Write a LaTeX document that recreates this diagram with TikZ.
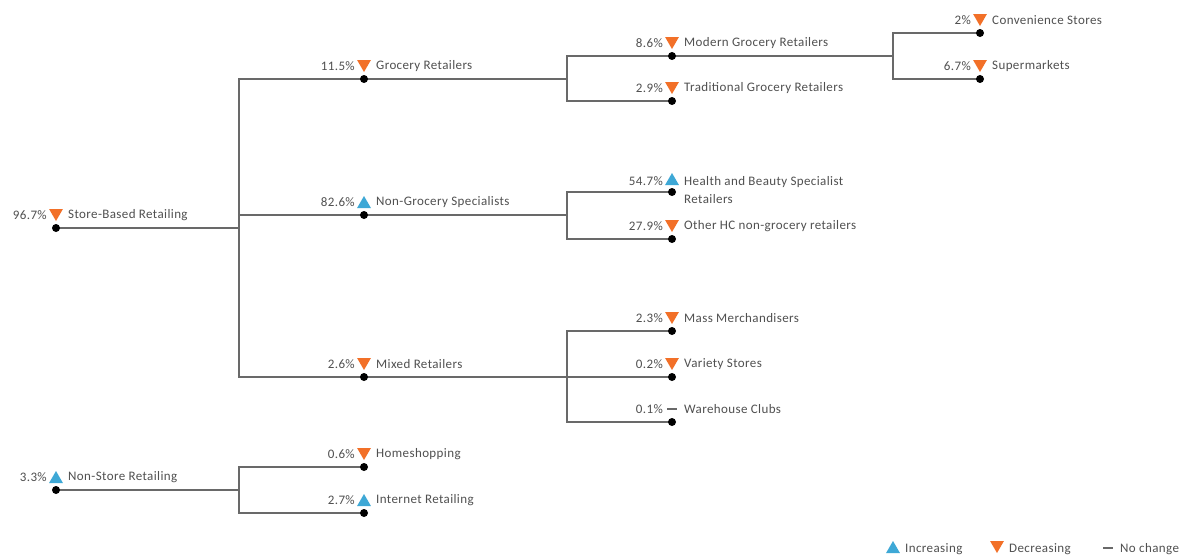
\documentclass[tikz,border=0pt]{standalone}
\usepackage{fontspec}
\setmainfont{Carlito}[LetterSpace=3]
\usetikzlibrary{shapes.geometric}
\definecolor{upblue}{RGB}{62,168,214}
\definecolor{downorange}{RGB}{242,112,40}
\definecolor{txtgray}{RGB}{80,80,80}
\definecolor{linegray}{RGB}{105,105,105}
\tikzset{
  dot/.style={circle,fill=black,inner sep=0pt,minimum size=8pt},
  incr/.style={regular polygon,regular polygon sides=3,fill=upblue,inner sep=0pt,minimum size=16pt,yshift=-2pt},
  decr/.style={regular polygon,regular polygon sides=3,shape border rotate=180,fill=downorange,inner sep=0pt,minimum size=16pt,yshift=2pt},
  flat/.style={rectangle,fill=linegray,inner sep=0pt,minimum width=10pt,minimum height=2pt},
  pct/.style={anchor=east,text=txtgray,inner sep=0pt},
  lbl/.style={anchor=west,text=txtgray,inner sep=0pt},
  link/.style={draw=linegray,line width=1.1pt}
}
\begin{document}
\begin{tikzpicture}[x=1pt,y=-1pt,font=\fontsize{13}{18}\selectfont]
\useasboundingbox[fill=white] (0,0) rectangle (1180,554);
% categories: name/x/y/share/trend/label
\foreach \n/\x/\y/\p/\m/\t in {
  store/56/228/96.7\%/decr/Store-Based Retailing,
  grocery/364/79/11.5\%/decr/Grocery Retailers,
  nongrocery/364/215/82.6\%/incr/Non-Grocery Specialists,
  mixed/364/377/2.6\%/decr/Mixed Retailers,
  modern/672/56/8.6\%/decr/Modern Grocery Retailers,
  traditional/672/101/2.9\%/decr/Traditional Grocery Retailers,
  convenience/980/33/2\%/decr/Convenience Stores,
  supermarkets/980/79/6.7\%/decr/Supermarkets,
  otherhc/672/239/27.9\%/decr/Other HC non-grocery retailers,
  mass/672/331/2.3\%/decr/Mass Merchandisers,
  variety/672/377/0.2\%/decr/Variety Stores,
  warehouse/672/422/0.1\%/flat/Warehouse Clubs,
  nonstore/56/490/3.3\%/incr/Non-Store Retailing,
  home/364/467/0.6\%/decr/Homeshopping,
  internet/364/513/2.7\%/incr/Internet Retailing}{
  \coordinate (\n) at (\x,\y);
  \node[\m] (\n-m) at (\x,\y-13) {};
  \node[pct] (\n-p) at (\x-9,\y-13) {\p};
  \node[lbl] (\n-l) at (\x+12,\y-13) {\t};
}
\coordinate (health) at (672,192);
\node[incr] (health-m) at (672,179) {};
\node[pct] (health-p) at (663,181) {54.7\%};
\node[lbl,align=left] (health-l) at (684,190) {Health and Beauty Specialist\\Retailers};
% junctions
\coordinate (j1) at (239,377);
\coordinate (j2) at (567,101);
\coordinate (j3) at (567,239);
\coordinate (j4) at (567,422);
\coordinate (j5) at (893,79);
\coordinate (j6) at (239,513);
% connectors
\draw[link] (store) -- (store -| j1);
\draw[link] (grocery) -| (j1) -- (mixed);
\draw[link] (nongrocery) -- (nongrocery -| j1);
\draw[link] (grocery) -- (grocery -| j2);
\draw[link] (modern) -| (j2) -- (traditional);
\draw[link] (nongrocery) -- (nongrocery -| j3);
\draw[link] (health) -| (j3) -- (otherhc);
\draw[link] (mixed) -- (variety);
\draw[link] (mass) -| (j4) -- (warehouse);
\draw[link] (modern) -- (modern -| j5);
\draw[link] (convenience) -| (j5) -- (supermarkets);
\draw[link] (nonstore) -- (nonstore -| j6);
\draw[link] (home) -| (j6) -- (internet);
\foreach \n in {store,grocery,nongrocery,mixed,modern,traditional,convenience,supermarkets,
  health,otherhc,mass,variety,warehouse,nonstore,home,internet}
  \node[dot] at (\n) {};
% legend
\node[incr] (key-up) at (893,547) {};
\node[lbl] (key-up-l) at (905,549) {Increasing};
\node[decr] (key-down) at (997,547) {};
\node[lbl] (key-down-l) at (1009,549) {Decreasing};
\node[flat] (key-same) at (1108,548) {};
\node[lbl] (key-same-l) at (1120,549) {No change};
\end{tikzpicture}
\end{document}
